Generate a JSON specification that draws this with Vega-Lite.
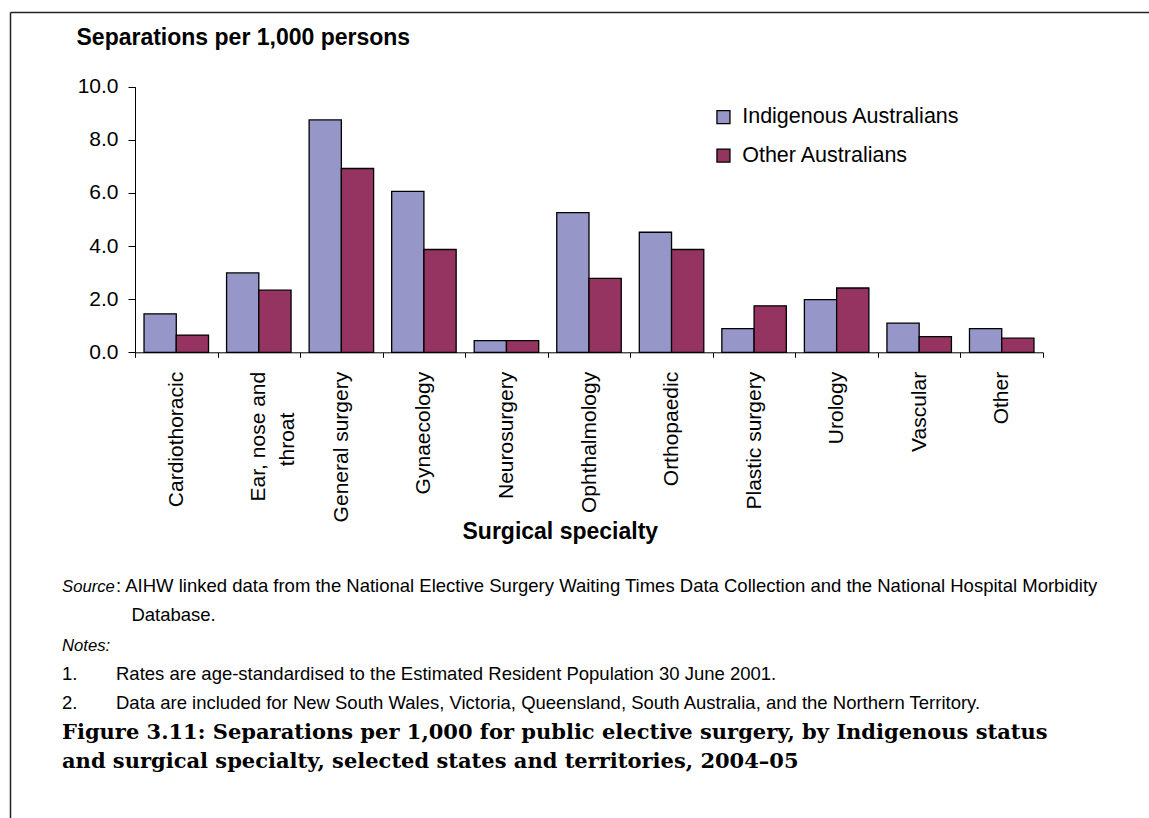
{
  "$schema": "https://vega.github.io/schema/vega-lite/v6.json",
  "autosize": {"type": "none"},
  "padding": {"left": 10, "top": 12, "right": 0, "bottom": 0},
  "width": 1139,
  "height": 806,
  "background": "white",
  "view": {"stroke": null},
  "config": {"font": "Liberation Sans"},
  "datasets": {
    "rates": [
      {"specialty": "Cardiothoracic", "population": "Indigenous Australians", "rate": 1.45},
      {"specialty": "Cardiothoracic", "population": "Other Australians", "rate": 0.65},
      {"specialty": "Ear, nose and throat", "population": "Indigenous Australians", "rate": 2.99},
      {"specialty": "Ear, nose and throat", "population": "Other Australians", "rate": 2.34},
      {"specialty": "General surgery", "population": "Indigenous Australians", "rate": 8.75},
      {"specialty": "General surgery", "population": "Other Australians", "rate": 6.92},
      {"specialty": "Gynaecology", "population": "Indigenous Australians", "rate": 6.06},
      {"specialty": "Gynaecology", "population": "Other Australians", "rate": 3.87},
      {"specialty": "Neurosurgery", "population": "Indigenous Australians", "rate": 0.44},
      {"specialty": "Neurosurgery", "population": "Other Australians", "rate": 0.44},
      {"specialty": "Ophthalmology", "population": "Indigenous Australians", "rate": 5.26},
      {"specialty": "Ophthalmology", "population": "Other Australians", "rate": 2.78},
      {"specialty": "Orthopaedic", "population": "Indigenous Australians", "rate": 4.52},
      {"specialty": "Orthopaedic", "population": "Other Australians", "rate": 3.87},
      {"specialty": "Plastic surgery", "population": "Indigenous Australians", "rate": 0.89},
      {"specialty": "Plastic surgery", "population": "Other Australians", "rate": 1.75},
      {"specialty": "Urology", "population": "Indigenous Australians", "rate": 1.98},
      {"specialty": "Urology", "population": "Other Australians", "rate": 2.42},
      {"specialty": "Vascular", "population": "Indigenous Australians", "rate": 1.10},
      {"specialty": "Vascular", "population": "Other Australians", "rate": 0.59},
      {"specialty": "Other", "population": "Indigenous Australians", "rate": 0.89},
      {"specialty": "Other", "population": "Other Australians", "rate": 0.53}
    ],
    "notes": [
      {"line": 1, "part": "label", "kind": "heading", "text": "Source"},
      {"line": 1, "part": "body", "kind": "body", "text": ": AIHW linked data from the National Elective Surgery Waiting Times Data Collection and the National Hospital Morbidity"},
      {"line": 2, "part": "body", "kind": "body", "text": "\u200b\u00a0\u00a0\u00a0Database."},
      {"line": 3, "part": "label", "kind": "heading", "text": "Notes:"},
      {"line": 4, "part": "label", "kind": "body", "text": "1."},
      {"line": 4, "part": "body", "kind": "body", "text": "Rates are age-standardised to the Estimated Resident Population 30 June 2001."},
      {"line": 5, "part": "label", "kind": "body", "text": "2."},
      {"line": 5, "part": "body", "kind": "body", "text": "Data are included for New South Wales, Victoria, Queensland, South Australia, and the Northern Territory."},
      {"line": 6, "part": "label", "kind": "caption", "text": "Figure 3.11: Separations per 1,000 for public elective surgery, by Indigenous status"},
      {"line": 7, "part": "label", "kind": "caption", "text": "and surgical specialty, selected states and territories, 2004–05"}
    ]
  },
  "layer": [
    {
      "data": {"name": "rates"},
      "mark": {"type": "bar", "stroke": "black", "strokeWidth": 1.3},
      "encoding": {
        "x": {
          "field": "specialty", "type": "nominal", "sort": null,
          "scale": {"range": [125, 1033], "paddingInner": 0, "paddingOuter": 0},
          "axis": {
            "title": "Surgical specialty",
            "offset": -465.7,
            "tickBand": "extent",
            "tickSize": 5,
            "domainColor": "black", "tickColor": "black", "labelColor": "black", "titleColor": "black",
            "labelAngle": -90, "labelAlign": "right", "labelBaseline": "middle",
            "labelPadding": 14, "labelFontSize": 21, "labelLineHeight": 29, "labelLimit": 0,
            "labelExpr": "datum.value == 'Ear, nose and throat' ? ['Ear, nose and', 'throat\u00a0\u00a0\u00a0\u00a0\u00a0\u00a0\u00a0\u200b'] : datum.label",
            "titleFontSize": 23, "titleFontWeight": "bold",
            "titleAlign": "left", "titleBaseline": "alphabetic",
            "titleX": 452, "titleY": 186
          }
        },
        "xOffset": {
          "field": "population", "type": "nominal",
          "sort": ["Indigenous Australians", "Other Australians"],
          "scale": {"paddingInner": 0, "paddingOuter": 0.28}
        },
        "y": {
          "field": "rate", "type": "quantitative",
          "scale": {"domain": [0, 10], "range": [340.3, 74.7], "nice": false},
          "axis": {
            "title": "Separations per 1,000 persons",
            "values": [0, 2, 4, 6, 8, 10], "format": ".1f", "grid": false,
            "offset": -125, "tickSize": 7, "labelPadding": 10, "labelFontSize": 21,
            "domainColor": "black", "tickColor": "black", "labelColor": "black", "titleColor": "black",
            "titleAngle": 0, "titleAlign": "left", "titleBaseline": "alphabetic",
            "titleX": -59, "titleY": 32, "titleFontSize": 23, "titleFontWeight": "bold"
          }
        },
        "color": {
          "field": "population", "type": "nominal",
          "scale": {"domain": ["Indigenous Australians", "Other Australians"], "range": ["#9696C8", "#953361"]},
          "legend": {
            "orient": "none", "legendX": 702.7, "legendY": 94.3, "title": null,
            "direction": "vertical", "padding": 0, "labelLimit": 0,
            "symbolType": "square", "symbolSize": 169, "symbolStrokeColor": "black", "symbolStrokeWidth": 1.3,
            "labelFontSize": 21.5, "labelColor": "black", "labelOffset": 8, "rowPadding": 15.5
          }
        }
      }
    },
    {
      "data": {"name": "notes"},
      "transform": [{"filter": "datum.kind == 'heading'"}],
      "mark": {"type": "text", "align": "left", "baseline": "alphabetic", "font": "Liberation Sans", "fontSize": 16.7, "fontStyle": "italic", "color": "black"},
      "encoding": {
        "x": {"field": "part", "type": "nominal", "scale": {"type": "point", "domain": ["label", "body"], "range": [52, 106], "padding": 0}, "axis": null},
        "y": {"field": "line", "type": "quantitative", "scale": {"domain": [-18.72, 11.89], "range": [0, 900], "zero": false, "nice": false}, "axis": null},
        "text": {"field": "text"}
      }
    },
    {
      "data": {"name": "notes"},
      "transform": [{"filter": "datum.kind == 'body'"}],
      "mark": {"type": "text", "align": "left", "baseline": "alphabetic", "font": "Liberation Sans", "fontSize": 18.5, "color": "black"},
      "encoding": {
        "x": {"field": "part", "type": "nominal", "scale": {"type": "point", "domain": ["label", "body"], "range": [52, 106], "padding": 0}, "axis": null},
        "y": {"field": "line", "type": "quantitative", "scale": {"domain": [-18.72, 11.89], "range": [0, 900], "zero": false, "nice": false}, "axis": null},
        "text": {"field": "text"}
      }
    },
    {
      "data": {"name": "notes"},
      "transform": [{"filter": "datum.kind == 'caption'"}],
      "mark": {"type": "text", "align": "left", "baseline": "alphabetic", "font": "DejaVu Serif", "fontSize": 21, "fontWeight": "bold", "color": "black"},
      "encoding": {
        "x": {
          "field": "part", "type": "nominal",
          "scale": {"type": "point", "domain": ["label"], "range": [-1100, 1204]},
          "axis": {"orient": "top", "offset": 0, "labels": false, "ticks": false, "grid": false, "title": null,
                   "domainColor": "#222222", "domainWidth": 1.5, "domainDash": [1200, 1100], "domainDashOffset": 1200}
        },
        "y": {
          "field": "line", "type": "quantitative",
          "scale": {"domain": [-18.72, 11.89], "range": [0, 900], "zero": false, "nice": false},
          "axis": {"orient": "left", "offset": 0, "labels": false, "ticks": false, "grid": false, "title": null,
                   "domainColor": "#222222", "domainWidth": 1.5}
        },
        "text": {"field": "text"}
      }
    }
  ],
  "resolve": {"scale": {"x": "independent", "y": "independent"}, "axis": {"x": "independent", "y": "independent"}}
}
